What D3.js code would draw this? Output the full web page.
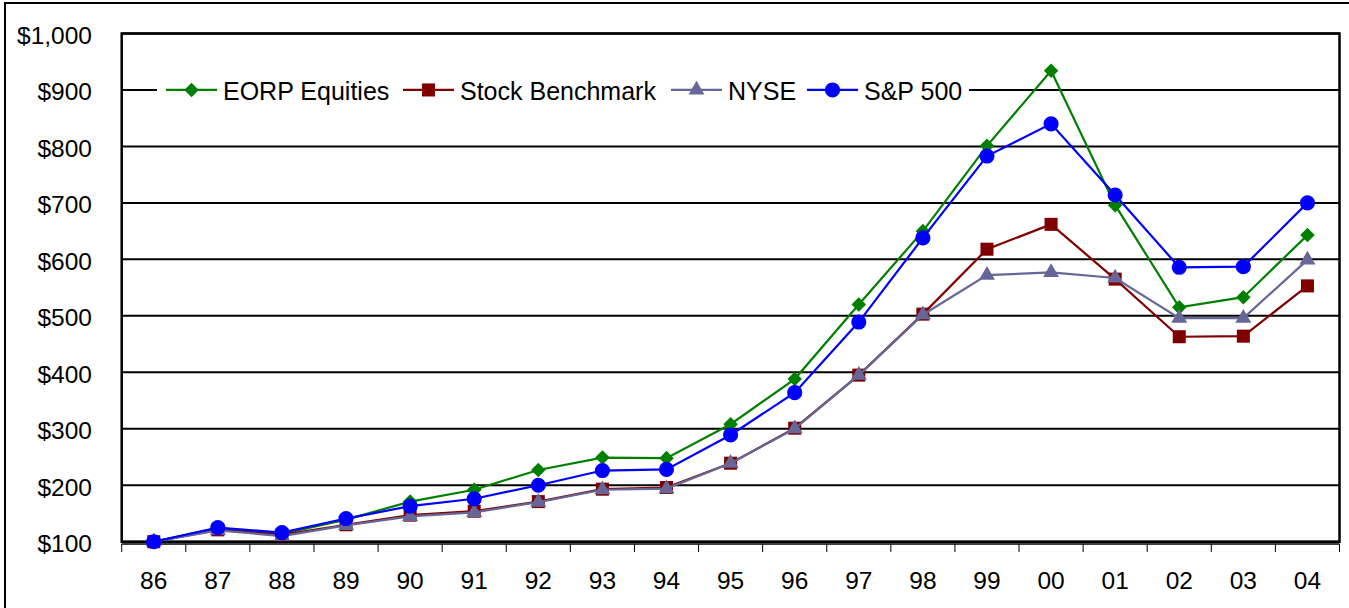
<!DOCTYPE html>
<html>
<head>
<meta charset="utf-8">
<script src="https://cdn.jsdelivr.net/npm/d3@7"></script>
<style>
html,body{margin:0;padding:0;background:#fff;}
svg{display:block;}
</style>
</head>
<body>
<div id="chart"></div>
<script>
// ---------------- data ----------------
var years=['86','87','88','89','90','91','92','93','94','95','96','97','98','99','00','01','02','03','04'];
var eorp =[100,124,114,139,171,192,227,249,248,308,388,520,650,801,934,696,515,533,643];
var stock=[100,121,112,130,147,154,171,193,196,239,301,395,503,618,662,565,463,464,553];
var nyse =[100,120,110,129,145,152,170,192,194,239,300,395,502,572,577,567,496,496,599];
var sp500=[100,125,116,141,163,176,200,226,228,289,364,489,638,783,840,714,586,587,700];
var yTicks=[100,200,300,400,500,600,700,800,900,1000];

var series=[
	{name:'EORP Equities',   vals:eorp,  color:'#008000', mark:'diamond'},
	{name:'Stock Benchmark', vals:stock, color:'#800000', mark:'square'},
	{name:'NYSE',            vals:nyse,  color:'#666699', mark:'triangle'},
	{name:'S&P 500',         vals:sp500, color:'#0000FF', mark:'circle'}
];

var W=1349, H=608;
var oSvg=d3.select('#chart').append('svg').attr('width',W).attr('height',H)
	.style('font-family','Arial, "Liberation Sans", sans-serif');

// outer frame (runs off right / bottom edge)
oSvg.append('rect').attr('x',5).attr('y',3).attr('width',W+10).attr('height',H+10)
	.attr('fill','#fff').attr('stroke','#000').attr('stroke-width',2);

var pL=121.7, pR=1339.5, pT=33.5, pB=541.7;
var x=d3.scaleBand().domain(years).range([pL,pR]);
var y=d3.scaleLinear().domain([100,1000]).range([pB,pT]);

// gridlines
oSvg.append('g').selectAll('line').data(yTicks).enter().append('line')
	.attr('x1',pL).attr('x2',pR)
	.attr('y1',function(d){return y(d)}).attr('y2',function(d){return y(d)})
	.attr('stroke','#000').attr('stroke-width',2);

// plot border
oSvg.append('rect').attr('x',pL).attr('y',pT).attr('width',pR-pL).attr('height',pB-pT)
	.attr('fill','none').attr('stroke','#000').attr('stroke-width',2.5);

// y labels
oSvg.append('g').selectAll('text').data(yTicks).enter().append('text')
	.attr('x',92).attr('y',function(d){return y(d)+10.5})
	.attr('text-anchor','end')
	.attr('font-size',24.5).attr('fill','#000')
	.text(function(d){return '$'+d3.format(',')(d)});

// x axis (category axis sits just below plot)
var gX=oSvg.append('g').attr('transform','translate(0,544)');
gX.append('line').attr('x1',pL).attr('x2',pR).attr('stroke','#000').attr('stroke-width',1.5);
var bounds=years.map(function(d){return x(d)}).concat([pR]);
gX.selectAll('line.tk').data(bounds).enter().append('line').attr('class','tk')
	.attr('x1',function(d){return d}).attr('x2',function(d){return d})
	.attr('y1',0).attr('y2',8).attr('stroke','#000').attr('stroke-width',1);
gX.selectAll('text').data(years).enter().append('text')
	.attr('x',function(d){return x(d)+x.bandwidth()/2}).attr('y',45)
	.attr('text-anchor','middle').attr('font-size',24.5).attr('fill','#000')
	.text(function(d){return d});

// markers
var sym={
	diamond: d3.symbol().type(d3.symbolDiamond2).size(135),
	square:  d3.symbol().type(d3.symbolSquare).size(170),
	triangle:d3.symbol().type(d3.symbolTriangle).size(110),
	circle:  d3.symbol().type(d3.symbolCircle).size(180)
};
function cx(i){return x(years[i])+x.bandwidth()/2}

var line=d3.line().x(function(d,i){return cx(i)}).y(function(d){return y(d)});
series.forEach(function(s){
	var g=oSvg.append('g');
	g.append('path').attr('d',line(s.vals)).attr('fill','none')
		.attr('stroke',s.color).attr('stroke-width',2.2);
	g.selectAll('path.m').data(s.vals).enter().append('path').attr('class','m')
		.attr('d',sym[s.mark]())
		.attr('transform',function(d,i){return 'translate('+cx(i)+','+y(d)+')'})
		.attr('fill',s.color);
});

// legend
var legX=[166,403,671,807], legY=y(900);
var gL=oSvg.append('g');
gL.append('rect').attr('x',157).attr('y',legY-14).attr('width',812).attr('height',28).attr('fill','#fff');
series.forEach(function(s,i){
	var g=gL.append('g').attr('transform','translate('+legX[i]+','+legY+')');
	g.append('line').attr('x1',0).attr('x2',51).attr('stroke',s.color).attr('stroke-width',2.2);
	g.append('path').attr('d',sym[s.mark]()).attr('transform','translate(25.5,0)').attr('fill',s.color);
	g.append('text').attr('x',57).attr('y',10.5).attr('font-size',25).attr('fill','#000').text(s.name);
});
</script>
</body>
</html>
